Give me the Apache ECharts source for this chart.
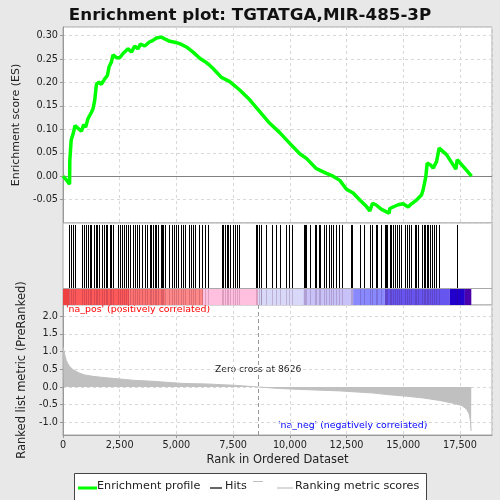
<!DOCTYPE html>
<html><head><meta charset="utf-8">
<script src="https://cdn.jsdelivr.net/npm/echarts@6/dist/echarts.min.js"></script>
<style>html,body{margin:0;padding:0;background:#e8e8e8}#c{width:500px;height:500px}</style>
</head><body><div id="c"></div>
<script>
// ---- data ----
const esRanks = [0,150,290,300,340,360,450,530,560,811,913,1000,1103,1250,1323,1398,1473,1588,1690,1839,1957,2029,2134,2205,2355,2500,2646,2867,3016,3162,3309,3413,3604,3793,3969,4117,4340,4530,4705,4926,5146,5440,5734,6029,6249,6440,6615,6983,7350,7791,8232,8673,9114,9555,9996,10437,10731,11172,11613,11907,12203,12497,12789,13085,13380,13526,13645,13792,14042,14376,14406,14774,14994,15215,15362,15583,15804,15877,15995,16053,16203,16318,16466,16583,16907,17318,17377,17641,18011];
const esValues = [0,-0.008,-0.017,0.033,0.034,0.077,0.091,0.108,0.110,0.096,0.110,0.105,0.123,0.136,0.144,0.162,0.196,0.201,0.196,0.208,0.215,0.233,0.244,0.259,0.253,0.253,0.262,0.272,0.265,0.278,0.272,0.282,0.278,0.286,0.290,0.295,0.297,0.292,0.288,0.286,0.283,0.276,0.265,0.252,0.245,0.238,0.230,0.211,0.202,0.184,0.163,0.138,0.113,0.093,0.070,0.048,0.038,0.016,0.006,0.0,-0.009,-0.028,-0.036,-0.051,-0.065,-0.074,-0.058,-0.061,-0.071,-0.079,-0.069,-0.061,-0.059,-0.066,-0.059,-0.051,-0.040,-0.029,-0.001,0.028,0.024,0.017,0.031,0.060,0.046,0.015,0.035,0.021,0.0];
const hitRanks = [265,338,441,529,838,911,1000,1102,1176,1250,1367,1470,1514,1588,1735,1808,1882,1955,2058,2132,2205,2426,2499,2587,2675,2764,2867,2969,3087,3161,3278,3352,3499,3602,3704,3822,3896,3969,4057,4116,4190,4307,4366,4425,4513,4675,4807,4895,4998,5072,5219,5292,5395,5542,5660,5733,5821,5998,6130,6262,6380,7012,7071,7144,7218,7277,7350,7482,7571,7688,7762,8497,8555,8644,8717,8747,8967,9232,9408,9584,9849,9967,10114,10613,10658,10731,10907,11099,11172,11290,11348,11495,11613,11716,11804,11907,12054,12157,12319,12716,12760,13083,13274,13553,13612,13789,13862,14039,14186,14259,14303,14406,14480,14553,14627,14715,14818,14921,15068,15170,15244,15332,15523,15582,15670,15847,15905,15979,16052,16111,16170,16288,16346,16435,16582,17375];
const metricRanks = [0,31,80,150,220,295,441,590,736,957,1323,1764,2426,3087,3969,5292,6323,7500,8626,9500,10500,12203,12939,13671,14407,15144,15876,16612,17200,17568,17789,17906,17960,17990,18000];
const metricValues = [1.12,1.05,0.90,0.74,0.65,0.58,0.49,0.44,0.39,0.34,0.30,0.27,0.23,0.19,0.16,0.10,0.086,0.05,0.0,-0.04,-0.07,-0.11,-0.14,-0.17,-0.22,-0.26,-0.31,-0.38,-0.46,-0.52,-0.62,-0.76,-0.95,-1.24,-1.24];
const bandStarts = [0,295,2940,4500,6175,8600,10586,12790,14187,17055,17716];
const bandEnd = 18000;
const zeroCross = 8626;
const xMax = 18912;

// ---- styles ----
const bandColors = ['#ee4040','#ff5a5a','#ff7272','#ff8888','#ffc0e0','#d8d8f8','#c8c2f8','#8888ff','#6655ee','#2200cc','#4a00aa'];
const FONT = 'DejaVu Sans';
const BAND_TOP = 0.204, HIT_TOP = 0.976;
const split = {show:true, lineStyle:{color:'#d8d8d8', type:[3,3], width:1}};
const tickLbl = {fontFamily:FONT, fontSize:9.7, color:'#222'};

const bandData = bandStarts.map((s,i)=>[s, i<bandStarts.length-1?bandStarts[i+1]:bandEnd, i]);

const chart = echarts.init(document.getElementById('c'), null, {renderer:'canvas'});
chart.setOption({
  animation:false,
  backgroundColor:'#e8e8e8',
  title:{text:'Enrichment plot: TGTATGA,MIR-485-3P', left:'center', top:2,
    textStyle:{fontFamily:FONT, fontWeight:'bold', fontSize:16.7, color:'#111'}},
  grid:[
    {left:63, top:27, width:429, height:196, show:true, backgroundColor:'#fff', borderColor:'#a8a8a8'},
    {left:63, top:223, width:429, height:82, show:true, backgroundColor:'#fff', borderColor:'#a8a8a8'},
    {left:63, top:305, width:429, height:130, show:true, backgroundColor:'#fff', borderColor:'#a8a8a8'}
  ],
  xAxis:[
    {gridIndex:0, type:'value', min:0, max:xMax, interval:2500, axisLabel:{show:false}, axisTick:{show:false}, axisLine:{show:false}, splitLine:split},
    {gridIndex:1, type:'value', min:0, max:xMax, interval:2500, axisLabel:{show:false}, axisTick:{show:false}, axisLine:{show:false}, splitLine:{show:false}},
    {gridIndex:2, type:'value', min:0, max:xMax, interval:2500, splitLine:split,
      axisLine:{show:true, onZero:false, lineStyle:{color:'#999'}},
      axisTick:{show:true, length:3, lineStyle:{color:'#999'}},
      axisLabel:{...tickLbl, margin:5, showMaxLabel:false, formatter:v=>v.toLocaleString('en-US')},
      name:'Rank in Ordered Dataset', nameLocation:'middle', nameGap:19,
      nameTextStyle:{fontFamily:FONT, fontSize:11.5, color:'#222'}}
  ],
  yAxis:[
    {gridIndex:0, type:'value', min:-0.1, max:0.3186, splitNumber:8, splitLine:split,
      axisLine:{show:true, lineStyle:{color:'#999'}}, axisTick:{show:true, length:3, lineStyle:{color:'#999'}},
      axisLabel:{...tickLbl, margin:5, showMinLabel:false, showMaxLabel:false, formatter:v=>v.toFixed(2)},
      name:'Enrichment score (ES)', nameLocation:'middle', nameGap:36,
      nameTextStyle:{fontFamily:FONT, fontSize:11, color:'#222'}},
    {gridIndex:1, type:'value', min:0, max:1, axisLabel:{show:false}, axisTick:{show:false}, axisLine:{show:false}, splitLine:{show:false}},
    {gridIndex:2, type:'value', min:-1.354, max:2.313, splitNumber:7, splitLine:split,
      axisLine:{show:true, onZero:false, lineStyle:{color:'#999'}}, axisTick:{show:true, length:3, lineStyle:{color:'#999'}},
      axisLabel:{...tickLbl, margin:5, showMinLabel:false, showMaxLabel:false, formatter:v=>v.toFixed(1)},
      name:'Ranked list metric (PreRanked)', nameLocation:'middle', nameGap:29,
      nameTextStyle:{fontFamily:FONT, fontSize:11.5, color:'#222'}}
  ],
  series:[
    {type:'line', xAxisIndex:2, yAxisIndex:2, data:metricRanks.map((r,i)=>[r,metricValues[i]]),
      showSymbol:false, symbol:'none', lineStyle:{color:'#c0c0c0', width:1}, areaStyle:{color:'#c0c0c0', opacity:1},
      markLine:{silent:true, symbol:['none','none'], label:{show:false},
        lineStyle:{color:'#999', type:[4,3], width:1}, data:[{xAxis:zeroCross}]}},
    {type:'custom', xAxisIndex:1, yAxisIndex:1, data:bandData,
      renderItem:(params, api)=>{
        const p0 = api.coord([api.value(0), BAND_TOP]);
        const p1 = api.coord([api.value(1), 0]);
        return {type:'rect', shape:{x:p0[0], y:p0[1], width:p1[0]-p0[0], height:p1[1]-p0[1]},
          style:{fill:bandColors[api.value(2)]}};
      },
      markLine:{silent:true, symbol:['none','none'], label:{show:false},
        lineStyle:{color:'#a8a8a8', type:'solid', width:1}, data:[{yAxis:BAND_TOP}]}},
    {type:'custom', xAxisIndex:1, yAxisIndex:1, data:hitRanks.map(r=>[r]),
      renderItem:(params, api)=>{
        const a = api.coord([api.value(0), HIT_TOP]);
        const b = api.coord([api.value(0), BAND_TOP]);
        const c = api.coord([api.value(0), 0]);
        const x = Math.round(a[0]) + 0.5;
        return {type:'group', children:[
          {type:'line', shape:{x1:x, y1:a[1], x2:x, y2:b[1]}, style:{stroke:'#000', lineWidth:1}},
          {type:'line', shape:{x1:x, y1:b[1]+1, x2:x, y2:c[1]}, style:{stroke:'rgba(60,0,40,0.18)', lineWidth:1}}
        ]};
      }},
    {type:'line', xAxisIndex:0, yAxisIndex:0, data:esRanks.map((r,i)=>[r,esValues[i]]),
      showSymbol:false, symbol:'none', lineStyle:{color:'#00ff00', width:3.5}, z:5,
      markLine:{silent:true, symbol:['none','none'], label:{show:false}, z:1,
        lineStyle:{color:'#808080', type:'solid', width:1}, data:[{yAxis:0}]}}
  ],
  graphic:[
    {type:'text', left:66, top:305, style:{text:"'na_pos' (positively correlated)", font:'9.4px "DejaVu Sans"', fill:'#ff0000'}},
    {type:'text', left:278, top:421, style:{text:"'na_neg' (negatively correlated)", font:'9.4px "DejaVu Sans"', fill:'#0000ff'}},
    {type:'text', left:215, top:365, style:{text:'Zero cross at 8626', font:'9.2px "DejaVu Sans"', fill:'#222'}},
    {type:'rect', left:74, top:473, shape:{width:352, height:30}, style:{fill:'#fff', stroke:'#444', lineWidth:1}},
    {type:'line', shape:{x1:78, y1:488, x2:97, y2:488}, style:{stroke:'#00ff00', lineWidth:3}},
    {type:'text', left:97, top:481, style:{text:'Enrichment profile', font:'11.2px "DejaVu Sans"', fill:'#222'}},
    {type:'line', shape:{x1:210, y1:488, x2:222, y2:488}, style:{stroke:'#000', lineWidth:1.2}},
    {type:'text', left:225, top:481, style:{text:'Hits', font:'11.2px "DejaVu Sans"', fill:'#222'}},
    {type:'line', shape:{x1:253, y1:481.5, x2:263, y2:481.5}, style:{stroke:'#c0c0c0', lineWidth:1}},
    {type:'line', shape:{x1:277, y1:488, x2:293, y2:488}, style:{stroke:'#c0c0c0', lineWidth:1.2}},
    {type:'text', left:295, top:481, style:{text:'Ranking metric scores', font:'11.2px "DejaVu Sans"', fill:'#222'}}
  ]
});
</script></body></html>
